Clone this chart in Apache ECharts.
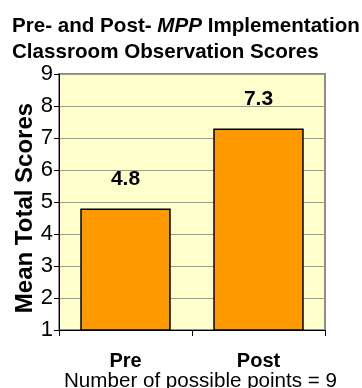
<!DOCTYPE html>
<html>
<head>
<meta charset="utf-8">
<script src="https://cdn.jsdelivr.net/npm/echarts@6/dist/echarts.min.js"></script>
<style>
  html, body { margin: 0; padding: 0; background: #fff; }
  #chart { width: 362px; height: 388px; }
</style>
</head>
<body>
<div id="chart"></div>
<script>
// Mean classroom observation scores before and after MPP implementation
const categories = ['Pre', 'Post'];
const meanScores = [4.8, 7.3];
const yTicks = { min: 1, max: 9, interval: 1 };

const FONT = '"Liberation Sans", Arial, sans-serif';

const chart = echarts.init(document.getElementById('chart'), null, { renderer: 'canvas' });

chart.setOption({
  animation: false,
  backgroundColor: '#ffffff',
  title: [
    {
      left: 7,
      top: 8,
      text: '{a|Pre- and Post- }{b|MPP}{a| Implementation}\n{a|Classroom Observation Scores}',
      textStyle: {
        rich: {
          a: { fontFamily: FONT, fontWeight: 'bold', fontSize: 20.6, color: '#000', lineHeight: 26 },
          b: { fontFamily: FONT, fontWeight: 'bold', fontStyle: 'italic', fontSize: 20.6, color: '#000', lineHeight: 26 }
        }
      }
    },
    {
      left: 59,
      top: 366,
      text: 'Number of possible points = 9',
      textStyle: { fontFamily: FONT, fontWeight: 'normal', fontSize: 20.6, color: '#000' }
    }
  ],
  grid: {
    left: 59,
    right: 37,
    top: 74,
    bottom: 58,
    show: true,
    backgroundColor: '#FFFFCC',
    borderColor: '#8c8c8c',
    borderWidth: 2
  },
  xAxis: {
    type: 'category',
    data: categories,
    axisLine: { lineStyle: { color: '#000', width: 1 } },
    axisTick: { show: true, length: 6, lineStyle: { color: '#000' } },
    axisLabel: {
      fontFamily: FONT, fontWeight: 'bold', fontSize: 20, color: '#000', margin: 21
    }
  },
  yAxis: {
    type: 'value',
    min: yTicks.min,
    max: yTicks.max,
    interval: yTicks.interval,
    name: 'Mean Total Scores',
    nameLocation: 'middle',
    nameGap: 22,
    nameMoveOverlap: false,
    nameTextStyle: {
      fontFamily: FONT, fontWeight: 'bold', fontSize: 24, color: '#000',
      padding: [0, 12, 0, 0]
    },
    axisLine: { show: true, lineStyle: { color: '#000', width: 1 } },
    axisTick: { show: true, length: 5, lineStyle: { color: '#000' } },
    axisLabel: { fontFamily: FONT, fontSize: 22, color: '#000', margin: 6 },
    splitLine: { show: true, lineStyle: { color: '#999', width: 1 } }
  },
  series: [
    {
      type: 'bar',
      data: meanScores,
      barWidth: '68%',
      itemStyle: { color: '#FF9900', borderColor: '#000', borderWidth: 1.5 },
      label: {
        show: true,
        position: 'top',
        distance: 19,
        fontFamily: FONT,
        fontWeight: 'bold',
        fontSize: 21,
        color: '#000',
        formatter: (p) => p.value.toFixed(1)
      }
    }
  ]
});
</script>
</body>
</html>
